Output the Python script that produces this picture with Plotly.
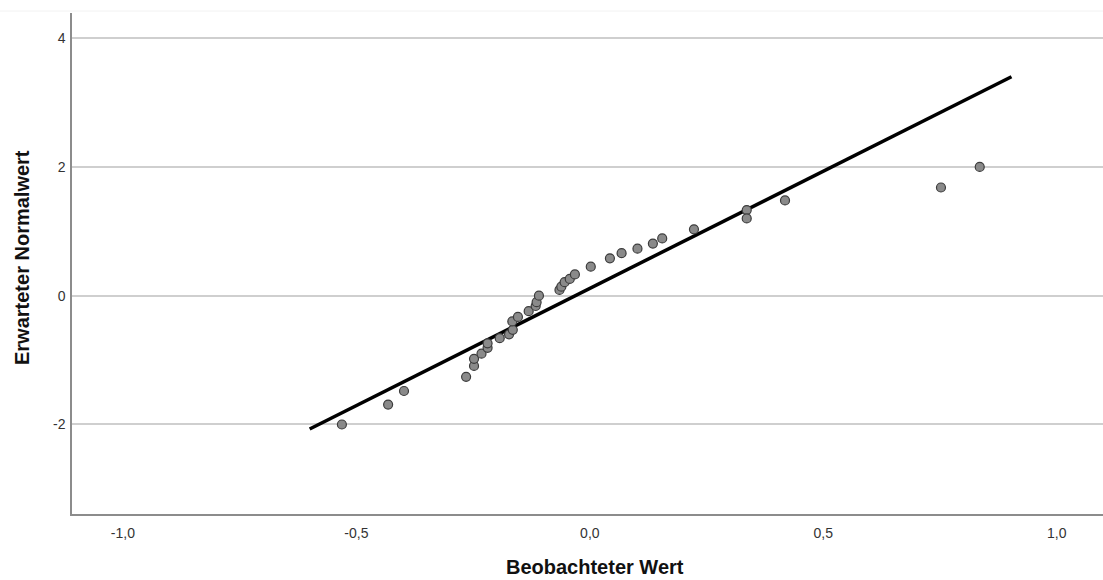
import plotly.graph_objects as go

# Observed values (Beobachteter Wert) and expected normal values
obs_x = [-0.531, -0.432, -0.398, -0.265, -0.248, -0.248, -0.232, -0.219, -0.219,
         -0.193, -0.173, -0.165, -0.166, -0.154, -0.131, -0.116, -0.114, -0.109,
         -0.065, -0.061, -0.054, -0.043, -0.032, 0.002, 0.043, 0.068, 0.102,
         0.135, 0.155, 0.223, 0.336, 0.336, 0.418, 0.752, 0.835]
exp_y = [-2.00, -1.69, -1.48, -1.26, -1.09, -0.98, -0.90, -0.81, -0.74,
         -0.66, -0.60, -0.53, -0.40, -0.33, -0.24, -0.16, -0.10, 0.00,
         0.09, 0.14, 0.21, 0.26, 0.33, 0.45, 0.58, 0.66, 0.73,
         0.81, 0.89, 1.03, 1.33, 1.20, 1.48, 1.68, 2.00]

# Reference line endpoints
line_x = [-0.6, 0.903]
line_y = [-2.07, 3.40]

x_tickvals = [-1.0, -0.5, 0.0, 0.5, 1.0]
x_ticktext = ["-1,0", "-0,5", "0,0", "0,5", "1,0"]
y_tickvals = [-2, 0, 2, 4]
y_ticktext = ["-2", "0", "2", "4"]

fig = go.Figure()
fig.add_trace(go.Scatter(
    x=line_x, y=line_y, mode="lines",
    line=dict(color="black", width=3.5), hoverinfo="skip", showlegend=False))
fig.add_trace(go.Scatter(
    x=obs_x, y=exp_y, mode="markers",
    marker=dict(size=9, color="#8a8a8a", line=dict(color="#3c3c3c", width=1.2)),
    showlegend=False))

L, R, T, B = 72, 0, 13, 66
W, H = 1103, 580
pw = W - L - R
ph = H - T - B

font_family = "Liberation Sans, Arial, sans-serif"
fig.update_layout(
    width=W, height=H,
    margin=dict(l=L, r=R, t=T, b=B, autoexpand=False),
    paper_bgcolor="white", plot_bgcolor="white",
    font=dict(family=font_family, size=14, color="#333333"),
    xaxis=dict(range=[-1.109, 1.099], tickvals=x_tickvals, ticktext=x_ticktext,
               showgrid=False, zeroline=False, showline=True, linecolor="#8c8c8c",
               linewidth=1.5, ticks="", ticklen=0, ticklabelstandoff=5,
               tickfont=dict(size=14, color="#333333")),
    yaxis=dict(range=[-3.39, 4.39], tickvals=y_tickvals, ticktext=y_ticktext,
               showgrid=True, gridcolor="#cfcfcf", gridwidth=1.5, zeroline=False,
               showline=True, linecolor="#8c8c8c", linewidth=1.5, ticks="",
               ticklabelstandoff=2,
               tickfont=dict(size=14, color="#333333")),
    annotations=[
        dict(text="<b>Beobachteter Wert</b>", x=(595 - L) / pw, y=(H - B - 567) / ph,
             xref="paper", yref="paper", xanchor="center", yanchor="middle",
             showarrow=False, font=dict(size=20, color="#111111")),
        dict(text="<b>Erwarteter Normalwert</b>", x=(22 - L) / pw, y=(H - B - 258) / ph,
             textangle=-90, xref="paper", yref="paper", xanchor="center",
             yanchor="middle", showarrow=False, font=dict(size=20, color="#111111")),
    ],
    shapes=[
        dict(type="line", xref="paper", yref="paper", x0=-L / pw, x1=1,
             y0=(H - B - 11) / ph, y1=(H - B - 11) / ph,
             line=dict(color="#f2f2f2", width=1)),
    ],
)

fig.write_html("out.html", config={"displayModeBar": False},
               post_script="document.body.style.margin='0';document.body.style.overflow='hidden';")
